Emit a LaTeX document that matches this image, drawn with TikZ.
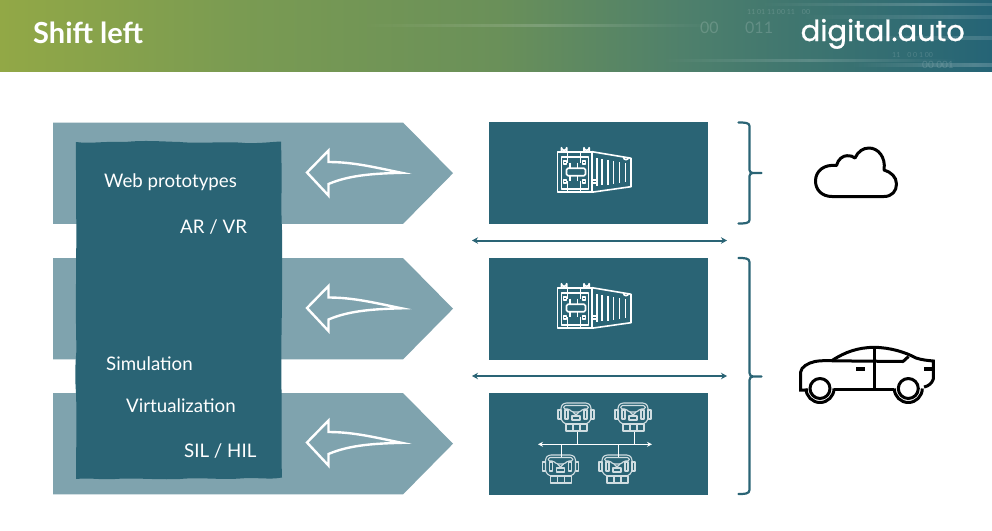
\documentclass[tikz,border=0pt]{standalone}
\usepackage{fontspec}
\setmainfont{Lato}
\newfontfamily\logofont[FakeBold=0.8]{Poppins}
\usetikzlibrary{arrows.meta,fadings}
\definecolor{deep}{HTML}{2A6475}
\definecolor{pale}{HTML}{7FA3AE}
\definecolor{bOne}{HTML}{92A846}
\definecolor{bMid}{HTML}{7A9B52}
\definecolor{bTwo}{HTML}{6A9059}
\definecolor{bThree}{HTML}{4D7F6C}
\definecolor{bFour}{HTML}{256476}
\pgfdeclarehorizontalshading{bannershade}{100bp}{
  color(0bp)=(bOne);
  color(25bp)=(bOne);
  color(37bp)=(bMid);
  color(50bp)=(bTwo);
  color(60bp)=(bThree);
  color(75bp)=(bFour);
  color(100bp)=(bFour)}
\tikzfading[name=streakfade,left color=transparent!100,right color=transparent!100,middle color=transparent!0]
\tikzset{
  x=1pt,y=-1pt,
  chevron/.style={fill=pale,draw=none},
  panel/.style={fill=deep,draw=none,minimum width=219pt,minimum height=102pt,inner sep=0pt,anchor=north west},
  stack/.style={fill=deep,draw=none},
  lbl/.style={text=white,font=\fontsize{18.7}{20}\selectfont,anchor=base west,inner sep=0pt},
  leftarrow/.style={draw=white,line width=2.4pt,line join=miter,fill=none},
  link/.style={draw=deep,line width=2pt,{Stealth[length=6pt,width=6.5pt]}-{Stealth[length=6pt,width=6.5pt]}},
  bracket/.style={draw=deep,line width=2.2pt,line cap=round,fill=none},
  iconline/.style={draw=black,line width=3pt,line join=round,fill=none},
  cline/.style={draw=white,line width=1.6pt,line join=round,fill=none},
  eline/.style={draw=white!78!deep,line width=1.1pt,line join=round,fill=none},
  streak/.style={fill=white,path fading=streakfade},
  digits/.style={text=white,opacity=0.16,inner sep=0pt,anchor=base west},
  pics/bigarrow/.style={code={
    \path[leftarrow] (1.5,0) -- (23,-22) -- (23,-10.5)
      .. controls (48,-10.5) and (70,-5) .. (96,0.3)
      .. controls (72,1) and (45,2) .. (23,11.5) -- (23,23) -- cycle;
  }},
  pics/container/.style={code={
    \path[cline] (0,0) rectangle (34.5,40.5);
    \path[cline] (4,5) rectangle (31,37.5);
    \path[cline] (10,0) -- (10,11) (23,0) -- (23,11) (10,29) -- (10,40.5) (23,29) -- (23,40.5);
    \path[cline] (4,-0.5) -- (4,-4) arc[start angle=180,end angle=0,radius=2.6] -- (9.2,-0.5);
    \path[cline] (26.5,-0.5) -- (26.5,-4) arc[start angle=180,end angle=0,radius=2.6] -- (31.7,-0.5);
    \path[cline,rounded corners=1.5pt] (9,16.5) rectangle (28,24);
    \path[cline] (12.5,11) -- (12.5,16) (20,11) -- (20,16) (12.5,24.5) -- (12.5,29) (20,24.5) -- (20,29);
    \path[cline] (6,9) rectangle (9,12) (25,9) rectangle (28,12) (6,28) rectangle (9,31) (25,28) rectangle (28,31);
    \path[cline] (34.5,0) -- (73.5,6.5) -- (73.5,35) -- (34.5,40.5);
    \path[cline] (66,5.5) arc[start angle=180,end angle=0,radius=2.5];
    \path[cline] (34.5,28.5) -- (38,28.5) (34.5,31.5) -- (38,31.5);
    \foreach \ribx/\ribt/\ribb in {39.5/6.5/34.5,44.5/7.5/33.7,50.5/8.5/33,56/9.5/32.2,62/10.5/31.4,68/11.5/30.6}
      {\path[cline] (\ribx,\ribt) -- (\ribx,\ribb);}
  }},
  pics/ecu/.style={code={
    \path[eline,rounded corners=2.5pt] (-12,0) -- (12,0) -- (15,3) -- (15,17) -- (11,21) -- (-11,21) -- (-15,17) -- (-15,3) -- cycle;
    \path[eline,rounded corners=1.5pt] (-12,2.5) -- (12,2.5) -- (12.5,6) -- (7,6) -- (4,9) -- (-4,9) -- (-7,6) -- (-12.5,6) -- cycle;
    \path[eline] (-18,7) rectangle (-15,16) (15,7) rectangle (18,16);
    \path[eline] (-11,7) rectangle (-8,16) (8,7) rectangle (11,16);
    \path[eline] (-4,13) rectangle (4,17);
    \path[eline] (-3,9) -- (0,12) -- (3,9);
    \path[eline] (-10,21) rectangle (11,28) (-3,21) -- (-3,28) (4,21) -- (4,28);
  }}
}
\begin{document}
\begin{tikzpicture}
\useasboundingbox (0,0) rectangle (992,530);
\fill[white] (0,0) rectangle (992,530);
% banner
\begin{scope}
  \clip (0,0) rectangle (992,71.5);
  \shade[shading=bannershade] (0,0) rectangle (992,71.5);
  \fill[streak,opacity=0.16] (360,23.5) rectangle (720,27);
  \fill[streak,opacity=0.16] (660,59) rectangle (960,61.5);
  \fill[streak,opacity=0.20] (760,3) rectangle (1100,6);
  \fill[streak,opacity=0.20] (850,63) rectangle (1100,67);
  \fill[streak,opacity=0.14] (800,15) rectangle (1100,19);
  \fill[streak,opacity=0.14] (850,36) rectangle (1100,40);
  \node[digits,font=\fontsize{16}{16}\selectfont] at (700,33) {00};
  \node[digits,font=\fontsize{16}{16}\selectfont] at (745,33) {011};
  \node[digits,font=\fontsize{7}{7}\selectfont] at (747,14) {11 01 11 00 11\quad 00};
  \node[digits,font=\fontsize{7}{7}\selectfont] at (892,57) {11\quad 0 0 1 00};
  \node[digits,font=\fontsize{10}{10}\selectfont] at (922,68) {00 001};
\end{scope}
\node[text=white,font=\fontsize{29}{30}\selectfont\bfseries,anchor=base west,inner sep=0pt] (title) at (33,43) {Shift left};
\node[text=white,font=\logofont\fontsize{29}{30}\selectfont,anchor=base east,inner sep=0pt] (logo) at (965,41) {digital.auto};
% chevrons
\foreach \cy in {122.5,258,393}{
  \path[chevron] (53,\cy) -- ++(350,0) -- ++(50,50.7) -- ++(-50,50.7) -- ++(-350,0) -- cycle;
}
% dark stack
\path[stack] (76,142) .. controls (90,144) and (105,141) .. (125,142)
  .. controls (145,140) and (160,141.5) .. (180,142) .. controls (200,144) and (225,141) .. (245,143)
  .. controls (260,143.5) and (270,142) .. (281,141.5)
  .. controls (282.5,190) and (280.5,200) .. (282,230) .. controls (283,300) and (280.5,340) .. (281.5,390)
  .. controls (282,430) and (281,450) .. (282,477.5)
  .. controls (270,480) and (255,477) .. (240,478.5) .. controls (220,480) and (200,477) .. (180,479)
  .. controls (155,480) and (135,477.5) .. (115,479) .. controls (100,480) and (90,477.5) .. (76,479)
  .. controls (76,450) and (77,420) .. (76,393) .. controls (75,380) and (75,365) .. (76.5,350)
  .. controls (75,300) and (77,250) .. (76,200) .. controls (76.5,180) and (75.5,160) .. (76,142) -- cycle;
% labels
\node[lbl] (t1) at (104,187) {Web prototypes};
\node[lbl] (t2) at (180,233.3) {AR / VR};
\node[lbl] (t3) at (106,370) {Simulation};
\node[lbl] (t4) at (126,412) {Virtualization};
\node[lbl] (t5) at (184,457) {SIL / HIL};
% white arrows
\pic at (305.5,172.5) {bigarrow};
\pic at (305.5,308) {bigarrow};
\pic at (305.5,442.5) {bigarrow};
% panels
\node[panel] (p1) at (489,122) {};
\node[panel] (p2) at (489,258) {};
\node[panel] (p3) at (489,393) {};
\pic at (557.5,151.7) {container};
\pic at (557.5,287.7) {container};
% ecus
\pic at (576,403) {ecu};
\pic at (633,403) {ecu};
\pic at (560.5,455) {ecu};
\pic at (617,455) {ecu};
\coordinate (busL) at (538,444.3);
\coordinate (busR) at (652,444.3);
\draw[draw=white,line width=1.1pt,{Stealth[length=5pt,width=5pt]}-{Stealth[length=5pt,width=5pt]}] (busL) -- (busR);
\draw[white,line width=1pt] (577.3,431.5) -- (577.3,444.3) (634,431.5) -- (634,444.3) (561.3,444.3) -- (561.3,457) (618.3,444.3) -- (618.3,457);
% links
\coordinate (a1) at (472,240.5); \coordinate (a2) at (727,240.5);
\coordinate (b1) at (472,376); \coordinate (b2) at (727,376);
\draw[link] (a1) -- (a2);
\draw[link] (b1) -- (b2);
% brackets
\path[bracket] (738.5,122.5) .. controls (744,122.5) and (749.5,122.5) .. (749.5,126) -- (749.5,170) .. controls (749.5,172) and (751,173) .. (753,173) -- (761.5,173) (753,173) .. controls (751,173) and (749.5,174) .. (749.5,176) -- (749.5,220) .. controls (749.5,223.5) and (744,223.5) .. (738.5,223.5);
\path[bracket] (738.5,258) .. controls (744,258) and (749.5,258) .. (749.5,262) -- (749.5,373) .. controls (749.5,375) and (751,376.5) .. (753,376.5) -- (761.5,376.5) (753,376.5) .. controls (751,376.5) and (749.5,378) .. (749.5,380) -- (749.5,490) .. controls (749.5,494) and (744,494) .. (738.5,494);
% cloud
\path[iconline] (832,196.5) .. controls (822,196.5) and (815.5,190) .. (815.5,181)
  .. controls (815.5,171) and (824,164) .. (836.5,165.5)
  .. controls (838,159) and (843,155.7) .. (847,155.7)
  .. controls (850,155.7) and (853,156) .. (855,158)
  .. controls (858,151.5) and (863,148) .. (869,148)
  .. controls (878,148) and (886,157) .. (884,170)
  .. controls (891,172) and (896.5,177) .. (896.5,184)
  .. controls (896.5,191) and (892,196.5) .. (884,196.5) -- cycle;
% car
\path[iconline,line join=miter] (808,390) -- (800.7,390) -- (800.7,372)
  .. controls (801,367) and (808,363) .. (815,361.5)
  .. controls (820,360.5) and (826,360.7) .. (832,360.5)
  .. controls (845,352) and (858,347.5) .. (874,347.3)
  .. controls (890,347.5) and (905,352) .. (916,358)
  .. controls (922,360) and (928,360.5) .. (933.3,361)
  -- (933.3,379) .. controls (932,383) and (929,386) .. (924,387);
\path[iconline] (832,360.8) -- (903,361.5) -- (908.5,356.5);
\path[iconline] (874.3,348) -- (874.3,389.5);
\path[iconline] (834,389.5) -- (894,389.5);
\path[iconline] (806,388.5) arc[start angle=180,end angle=0,radius=14];
\path[iconline] (894.3,388.5) arc[start angle=180,end angle=0,radius=14];
\path[iconline] (820,388.5) circle[radius=10];
\path[iconline] (908.3,388.5) circle[radius=10];
\fill[black] (856,367) rectangle (865,371);
\fill[black] (924,367) rectangle (933,371);
\end{tikzpicture}
\end{document}
